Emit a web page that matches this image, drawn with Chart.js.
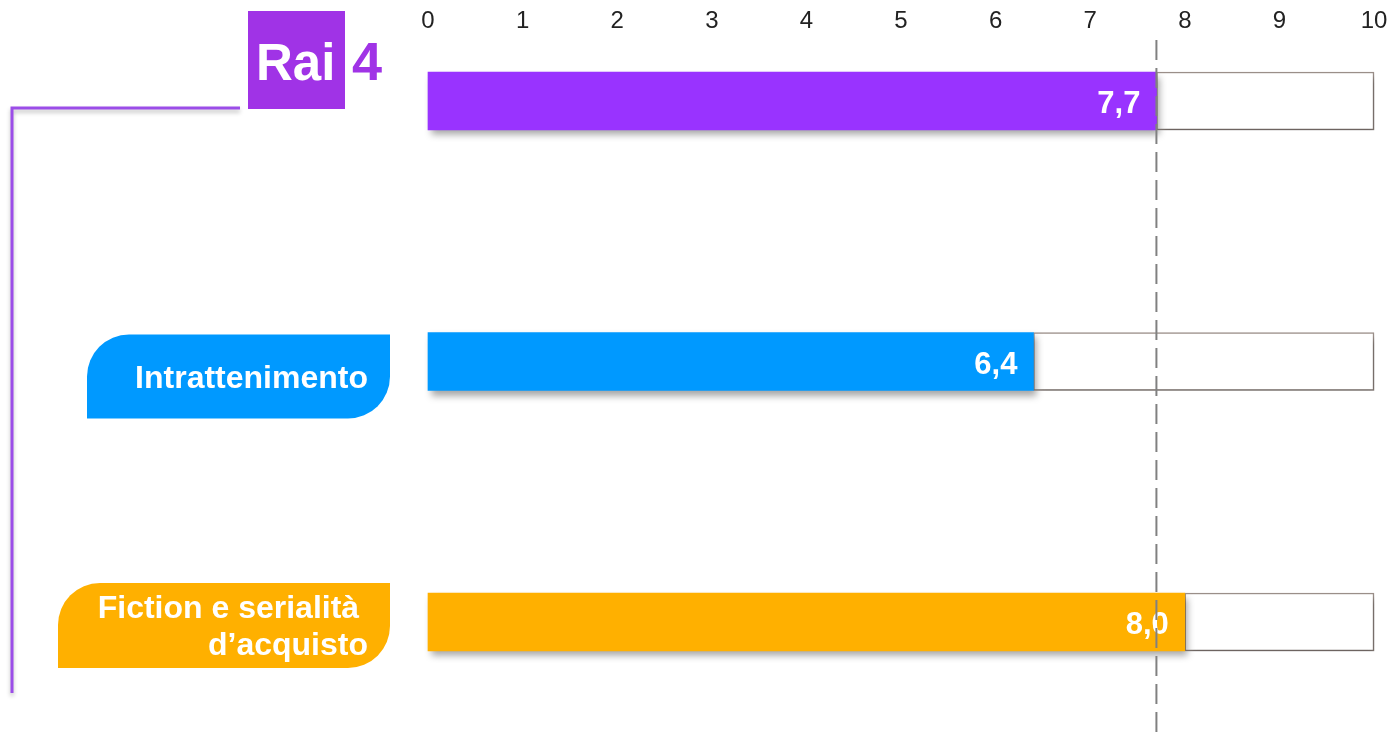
<!DOCTYPE html>
<html>
<head>
<meta charset="utf-8">
<script src="https://cdn.jsdelivr.net/npm/chart.js@4.4.1/dist/chart.umd.min.js"></script>
<style>
  html, body { margin: 0; padding: 0; background: #fff; }
  #wrap { width: 1389px; height: 737px; position: relative; }
</style>
</head>
<body>
<div id="wrap"><canvas id="chart"></canvas></div>
<script>
const categories = ["Rai 4", "Intrattenimento", "Fiction e serialità d’acquisto"];
const labelLines = [[], ["Intrattenimento"], ["Fiction e serialità ", "d’acquisto"]];
const scores = [7.7, 6.4, 8.0];
const barColors = ["#9933ff", "#0099ff", "#ffb000"];
const scaleMin = 0;
const scaleMax = 10;
const averageScore = 7.7;

const remainders = scores.map(v => scaleMax - v);
const FONT = "'Liberation Sans', Arial, sans-serif";

// label boxes on the left (style only)
const pillStyle = [null, { left: 87, dy: -27, h: 84 }, { left: 58, dy: -39, h: 85 }];

function pillPath(ctx, x0, y0, x1, y1, r) {
    ctx.beginPath();
    ctx.moveTo(x0 + r, y0);
    ctx.lineTo(x1, y0);
    ctx.lineTo(x1, y1 - r);
    ctx.arcTo(x1, y1, x1 - r, y1, r);
    ctx.lineTo(x0, y1);
    ctx.lineTo(x0, y0 + r);
    ctx.arcTo(x0, y0, x0 + r, y0, r);
    ctx.closePath();
}

const barShadow = {
    id: "barShadow",
    beforeDatasetDraw(chart) {
        const ctx = chart.ctx;
        ctx.save();
        ctx.shadowColor = "rgba(0,0,0,0.35)";
        ctx.shadowBlur = 7;
        ctx.shadowOffsetX = 3;
        ctx.shadowOffsetY = 5;
    },
    afterDatasetDraw(chart) {
        chart.ctx.restore();
    }
};

const decorations = {
    id: "decorations",
    beforeDatasetsDraw(chart) {
        const ctx = chart.ctx;
        const yScale = chart.scales.y;

        // left bracket line
        ctx.save();
        ctx.shadowColor = "rgba(0,0,0,0.25)";
        ctx.shadowBlur = 4;
        ctx.shadowOffsetY = 3;
        ctx.strokeStyle = "#9b4de8";
        ctx.lineWidth = 3;
        ctx.beginPath();
        ctx.moveTo(240, 108);
        ctx.lineTo(12, 108);
        ctx.lineTo(12, 693);
        ctx.stroke();
        ctx.restore();

        // Rai 4 logo
        ctx.save();
        ctx.fillStyle = "#a033e6";
        ctx.fillRect(248, 11, 97, 98);
        ctx.font = "bold 51px " + FONT;
        ctx.textBaseline = "alphabetic";
        ctx.textAlign = "left";
        ctx.fillStyle = "#fff";
        ctx.fillText("Rai", 256, 80);
        ctx.fillStyle = "#a033e6";
        ctx.font = "bold 54px " + FONT;
        ctx.fillText("4", 352, 80);
        ctx.restore();

        // category pills
        categories.forEach((c, i) => {
            const st = pillStyle[i];
            if (!st) return;
            const py = yScale.getPixelForValue(i);
            const top = py + st.dy;
            ctx.save();
            ctx.fillStyle = barColors[i];
            pillPath(ctx, st.left, top, 390, top + st.h, 42);
            ctx.fill();
            ctx.fillStyle = "#fff";
            ctx.font = "bold 32px " + FONT;
            ctx.textAlign = "right";
            ctx.textBaseline = "alphabetic";
            const lines = labelLines[i];
            const lh = 37;
            const base = top + st.h / 2 + 11 - (lines.length - 1) * lh / 2;
            lines.forEach((l, k) => ctx.fillText(l, 368, base + k * lh));
            ctx.restore();
        });
    },
    afterDatasetsDraw(chart) {
        const ctx = chart.ctx;
        const xScale = chart.scales.x;
        const meta = chart.getDatasetMeta(0);

        // value labels
        ctx.save();
        ctx.fillStyle = "#fff";
        ctx.font = "bold 31px " + FONT;
        ctx.textAlign = "right";
        ctx.textBaseline = "alphabetic";
        meta.data.forEach((bar, i) => {
            ctx.fillText(scores[i].toFixed(1).replace(".", ","), bar.x - 16, bar.y + 12);
        });
        ctx.restore();

        // average dashed line
        const ax = xScale.getPixelForValue(averageScore);
        ctx.save();
        ctx.strokeStyle = "#808080";
        ctx.lineWidth = 2;
        ctx.setLineDash([20, 8]);
        ctx.beginPath();
        ctx.moveTo(ax, 40);
        ctx.lineTo(ax, chart.height);
        ctx.stroke();
        ctx.restore();
    }
};

const ctx = document.getElementById("chart").getContext("2d");
new Chart(ctx, {
    type: "bar",
    data: {
        labels: categories,
        datasets: [{
            data: scores,
            backgroundColor: barColors,
            borderWidth: 0,
            barThickness: 58,
            clip: false
        }, {
            data: remainders,
            backgroundColor: "#ffffff",
            borderColor: "#9e928c",
            borderWidth: 1.5,
            borderSkipped: false,
            barThickness: 58,
            clip: false
        }]
    },
    options: {
        indexAxis: "y",
        responsive: true,
        maintainAspectRatio: false,
        animation: false,
        layout: { padding: { left: 428, right: 15, top: 0, bottom: 115 } },
        plugins: {
            legend: { display: false },
            tooltip: { enabled: false }
        },
        scales: {
            x: {
                position: "top",
                stacked: true,
                min: scaleMin,
                max: scaleMax,
                grid: { display: false },
                border: { display: false },
                ticks: {
                    stepSize: 1,
                    padding: 57,
                    color: "#222",
                    font: { family: FONT, size: 24 }
                },
                afterFit: scale => {
                    scale.height = 101;
                    scale.paddingLeft = 0;
                    scale.paddingRight = 0;
                }
            },
            y: {
                type: "category",
                stacked: true,
                offset: false,
                display: false
            }
        }
    },
    plugins: [barShadow, decorations]
});
</script>
</body>
</html>
